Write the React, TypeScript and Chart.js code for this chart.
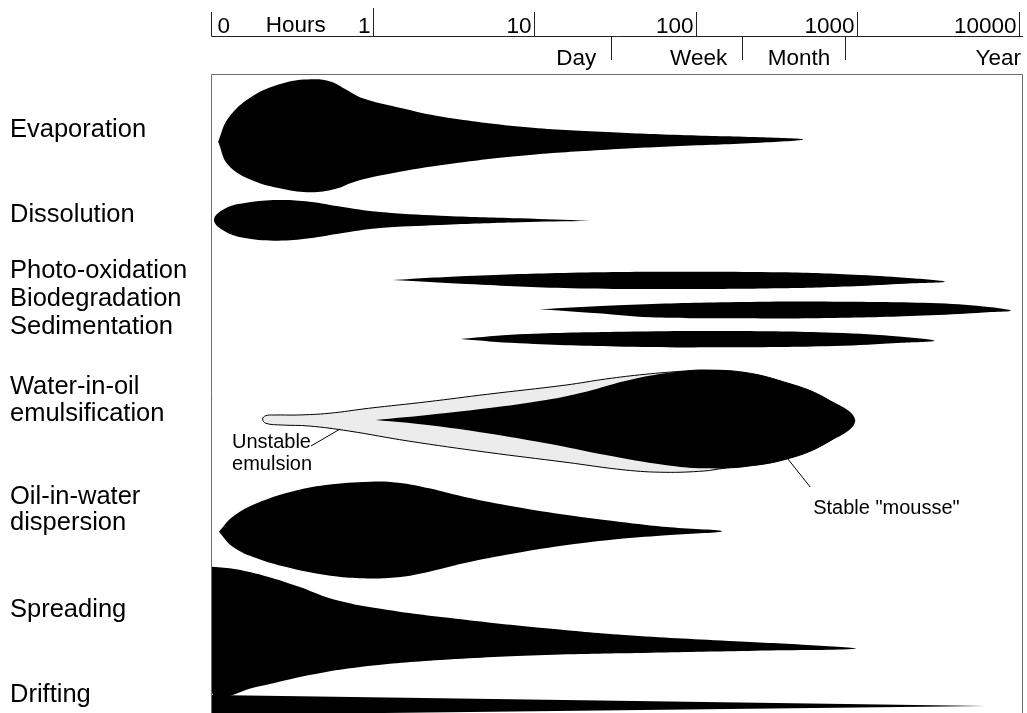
import React, { useEffect, useRef } from 'react';
import { Chart, registerables } from 'chart.js';

Chart.register(...registerables);

// ---- Time axis (hours, plotted as log10(hours)) ----
const HOUR_TICKS = [0.1, 1, 10, 100, 1000, 10000];
const HOUR_TICK_LABELS = ['0', '1', '10', '100', '1000', '10000'];
const PERIOD_LABELS = ['Day', 'Week', 'Month', 'Year'];
const PERIOD_BOUNDS = [30, 194, 843]; // hours where the period separators sit

// ---- Process labels (left column) and their row depth (chart y units) ----
const PROCESS_LABELS = [
  'Evaporation', 'Dissolution', 'Photo-oxidation', 'Biodegradation', 'Sedimentation',
  'Water-in-oil', 'emulsification', 'Oil-in-water', 'dispersion', 'Spreading', 'Drifting',
];
const PROCESS_LABEL_DEPTHS = [61, 146, 202, 230, 258, 318, 345, 428, 454, 541, 626];

// ---- Shape outlines: [log10(hours), depth]; top edge incl. tips, bottom edge interior ----
const evaporationTop = [
  [-0.962, 66.7], [-0.9, 43.3], [-0.755, 21.7], [-0.56, 8.3], [-0.387, 4.3], [-0.263, 6.7],
  [-0.165, 15], [-0.067, 23.3], [0.176, 33.3], [0.424, 41.7], [0.916, 51.7], [1.409, 56.7],
  [1.898, 60], [2.393, 62.3], [2.659, 64.5],
];
const evaporationBottom = [
  [-0.9, 90], [-0.755, 105], [-0.56, 114], [-0.387, 117.3], [-0.238, 114], [-0.116, 106.7],
  [0.056, 100], [0.424, 90], [0.916, 80.7], [1.409, 75], [1.898, 71], [2.393, 67.7],
];

const dissolutionTop = [
  [-0.988, 145], [-0.916, 133.3], [-0.786, 127.7], [-0.591, 125], [-0.396, 126.7], [-0.201, 131.7],
  [0.025, 136.7], [0.415, 140.7], [0.901, 143.3], [1.341, 145.8],
];
const dissolutionBottom = [
  [-0.916, 156.7], [-0.786, 163.3], [-0.591, 165.7], [-0.396, 163.3], [-0.201, 158.3],
  [0.025, 153.3], [0.415, 150], [0.901, 147.3],
];

const photoOxTop = [
  [0.115, 205], [0.577, 201], [1.226, 197.7], [1.873, 196.7], [2.523, 197.3], [3.011, 200],
  [3.334, 203.3], [3.536, 206.7],
];
const photoOxBottom = [
  [0.577, 209], [1.226, 213.3], [1.873, 214], [2.523, 213.3], [3.011, 211], [3.334, 208.3],
];

const biodegTop = [
  [1.025, 234.3], [1.551, 230], [2.199, 227.3], [2.848, 226.7], [3.495, 228.3], [3.822, 232.3],
  [3.945, 235.7],
];
const biodegBottom = [
  [1.388, 238.3], [1.712, 242.3], [2.199, 243.3], [2.848, 243], [3.495, 240], [3.822, 237],
];

const sedimentTop = [
  [0.538, 264], [0.901, 259.3], [1.551, 256.7], [2.199, 256], [2.848, 257.7], [3.27, 261.7],
  [3.471, 265.7],
];
const sedimentBottom = [
  [0.901, 268.3], [1.551, 271.7], [2.199, 272.3], [2.848, 271], [3.27, 267.7],
];

const mousseTop = [
  [0.013, 345], [0.336, 340], [0.703, 333.3], [1.068, 325], [1.315, 316.7], [1.557, 306],
  [1.804, 298.3], [2.046, 295], [2.293, 297.3], [2.536, 306.7], [2.782, 321.7], [2.981, 345.5],
];
const mousseBottom = [
  [0.336, 350], [0.703, 358.3], [1.068, 368.3], [1.437, 380], [1.804, 390], [2.046, 393.3],
  [2.293, 391.7], [2.536, 385], [2.782, 370],
];

const unstableTop = [
  [-0.687, 344], [-0.667, 340.7], [-0.618, 340], [-0.471, 340], [-0.276, 338.3], [-0.031, 333.3],
  [0.336, 326.7], [0.703, 319.3], [1.192, 310], [1.437, 304], [1.681, 299.3], [1.926, 296],
  [2.046, 295], [2.293, 297.3], [2.536, 306.7], [2.782, 321.7], [2.981, 345.5],
];
const unstableBottom = [
  [-0.667, 348.3], [-0.569, 350], [-0.399, 351], [-0.153, 356], [0.214, 366], [0.703, 377.3],
  [1.192, 387.3], [1.557, 395], [1.804, 397.3], [2.046, 396], [2.17, 393.3], [2.293, 391.7],
  [2.536, 385], [2.782, 370],
];

const dispersionTop = [
  [-0.957, 456.7], [-0.872, 441.7], [-0.723, 428.3], [-0.509, 416.7], [-0.296, 410], [-0.019, 406.7],
  [0.152, 407.7], [0.344, 413.3], [0.558, 421.7], [0.876, 431.7], [1.198, 440], [1.518, 446.7],
  [1.836, 452.3], [2.158, 456.3],
];
const dispersionBottom = [
  [-0.872, 471.7], [-0.723, 483.3], [-0.509, 493.3], [-0.296, 500], [-0.084, 503.3], [0.152, 502.3],
  [0.344, 496.7], [0.558, 488.3], [0.876, 478.3], [1.198, 470], [1.518, 464], [1.836, 460],
];

const spreadingTop = [
  [-1, 491.7], [-0.851, 494.3], [-0.656, 501.7], [-0.461, 511.7], [-0.233, 525], [0.09, 535],
  [0.579, 545], [1.066, 553.3], [1.551, 560], [2.201, 566], [2.689, 570], [2.981, 573.8],
];
const spreadingBottom = [
  [-1, 618.3], [-0.721, 611.7], [-0.396, 600], [-0.071, 591.7], [0.416, 585], [1.066, 580],
  [1.715, 577.7], [2.362, 575.7],
];

const driftingTop = [[-1, 620], [3.793, 631]];
const driftingBottom = [[-1, 640]];

// ---- Annotations ----
const UNSTABLE_TEXT = ['Unstable', 'emulsion'];
const UNSTABLE_LEADER = [[-0.387, 371], [-0.207, 354]];
const STABLE_TEXT = 'Stable "mousse"';
const STABLE_LEADER = [[2.56, 383], [2.703, 412]];

const X_MIN = -1;
const X_MAX = 4.02;
const Y_MAX = 638;

// closed outline: starts at the left tip (sharp left end) or at the right tip (rounded left end)
function outline(top: number[][], bottom: number[][], roundLeft = false) {
  const rev = bottom.slice().reverse();
  const pts = roundLeft
    ? [top[top.length - 1], ...rev, ...top]
    : [...top, ...rev, top[0]];
  return pts.map(([x, y]) => ({ x, y }));
}

function shape(label: string, top: number[][], bottom: number[][], color: string, extra: any = {}, roundLeft = false) {
  return {
    label,
    data: outline(top, bottom, roundLeft),
    backgroundColor: color,
    borderColor: '#000',
    borderWidth: 0,
    fill: 'shape',
    tension: 0.4,
    pointRadius: 0,
    pointHoverRadius: 0,
    ...extra,
  };
}

const FONT = '"Liberation Sans", Arial, Helvetica, sans-serif';

const decorPlugin = {
  id: 'decor',
  afterDraw(chart: any) {
    const { ctx, chartArea, scales } = chart;
    const xs = scales.x;
    const ys = scales.y;
    const px = (h: number) => xs.getPixelForValue(Math.log10(h));
    ctx.save();

    // plot frame
    ctx.strokeStyle = '#6e6e6e';
    ctx.lineWidth = 1;
    ctx.beginPath();
    ctx.moveTo(Math.round(chartArea.left) - 0.5, chartArea.bottom);
    ctx.lineTo(Math.round(chartArea.left) - 0.5, chartArea.top - 0.5);
    ctx.lineTo(Math.round(chartArea.right) - 0.5, chartArea.top - 0.5);
    ctx.lineTo(Math.round(chartArea.right) - 0.5, chartArea.bottom);
    ctx.stroke();

    // header: hours row
    ctx.strokeStyle = '#222';
    ctx.fillStyle = '#000';
    const x0 = Math.round(px(HOUR_TICKS[0])) - 0.5;
    ctx.beginPath();
    ctx.moveTo(x0, 36.5);
    ctx.lineTo(chartArea.right, 36.5);
    ctx.stroke();
    ctx.font = '22.5px ' + FONT;
    ctx.textBaseline = 'alphabetic';
    HOUR_TICKS.forEach((h, i) => {
      const x = Math.round(px(h)) - 0.5;
      ctx.beginPath();
      ctx.moveTo(x, i === 1 ? 8 : 12);
      ctx.lineTo(x, 36.5);
      ctx.stroke();
      if (i === 0) {
        ctx.textAlign = 'left';
        ctx.fillText(HOUR_TICK_LABELS[i], x + 6, 33);
      } else {
        ctx.textAlign = 'right';
        ctx.fillText(HOUR_TICK_LABELS[i], x - 3, 33);
      }
    });
    ctx.textAlign = 'center';
    ctx.fillText('Hours', px(Math.sqrt(HOUR_TICKS[0] * HOUR_TICKS[1])) + 3, 32);

    // header: periods row
    PERIOD_BOUNDS.forEach((h) => {
      const x = Math.round(px(h)) - 0.5;
      ctx.beginPath();
      ctx.moveTo(x, 37);
      ctx.lineTo(x, 60);
      ctx.stroke();
    });
    ctx.textAlign = 'right';
    PERIOD_LABELS.forEach((lab, i) => {
      const right = i < PERIOD_BOUNDS.length ? px(PERIOD_BOUNDS[i]) - 16 : chartArea.right - 2;
      ctx.fillText(lab, right, 65);
    });

    // process labels
    ctx.font = '25.5px ' + FONT;
    ctx.textAlign = 'left';
    PROCESS_LABELS.forEach((lab, i) => {
      ctx.fillText(lab, 10, ys.getPixelForValue(PROCESS_LABEL_DEPTHS[i]) + 0.5);
    });

    // annotations
    ctx.font = '20px ' + FONT;
    ctx.strokeStyle = '#000';
    ctx.lineWidth = 1;
    const drawLeader = (seg: number[][]) => {
      ctx.beginPath();
      ctx.moveTo(xs.getPixelForValue(seg[0][0]), ys.getPixelForValue(seg[0][1]));
      ctx.lineTo(xs.getPixelForValue(seg[1][0]), ys.getPixelForValue(seg[1][1]));
      ctx.stroke();
    };
    drawLeader(UNSTABLE_LEADER);
    drawLeader(STABLE_LEADER);
    const ux = xs.getPixelForValue(-0.876);
    ctx.fillText(UNSTABLE_TEXT[0], ux, ys.getPixelForValue(373));
    ctx.fillText(UNSTABLE_TEXT[1], ux, ys.getPixelForValue(395));
    ctx.fillText(STABLE_TEXT, xs.getPixelForValue(2.721), ys.getPixelForValue(439));

    ctx.restore();
  },
};

export default function App() {
  const ref = useRef<HTMLCanvasElement | null>(null);

  useEffect(() => {
    document.body.style.margin = '0';
    const canvas = ref.current;
    if (!canvas) return;
    const chart = new Chart(canvas, {
      type: 'line',
      data: {
        datasets: [
          shape('Evaporation', evaporationTop, evaporationBottom, '#000'),
          shape('Dissolution', dissolutionTop, dissolutionBottom, '#000', {}, true),
          shape('Photo-oxidation', photoOxTop, photoOxBottom, '#000'),
          shape('Biodegradation', biodegTop, biodegBottom, '#000'),
          shape('Sedimentation', sedimentTop, sedimentBottom, '#000'),
          shape('Stable mousse', mousseTop, mousseBottom, '#000'),
          shape('Unstable emulsion', unstableTop, unstableBottom, '#ececec', { borderWidth: 1 }, true),
          shape('Oil-in-water dispersion', dispersionTop, dispersionBottom, '#000'),
          shape('Spreading', spreadingTop, spreadingBottom, '#000'),
          shape('Drifting', driftingTop, driftingBottom, '#000', { tension: 0 }),
        ] as any,
      },
      options: {
        animation: false,
        responsive: false,
        maintainAspectRatio: false,
        events: [],
        layout: { padding: { left: 212, top: 75, right: 4, bottom: 0 } },
        plugins: {
          legend: { display: false },
          tooltip: { enabled: false },
          title: { display: false },
        },
        scales: {
          x: { type: 'linear', min: X_MIN, max: X_MAX, display: false },
          y: { type: 'linear', min: 0, max: Y_MAX, reverse: true, display: false },
        },
      } as any,
      plugins: [decorPlugin],
    });
    return () => chart.destroy();
  }, []);

  return (
    <div style={{ position: 'absolute', left: 0, top: 0, width: 1027, height: 713, background: '#fff' }}>
      <canvas ref={ref} width={1027} height={713} style={{ display: 'block' }} />
    </div>
  );
}
